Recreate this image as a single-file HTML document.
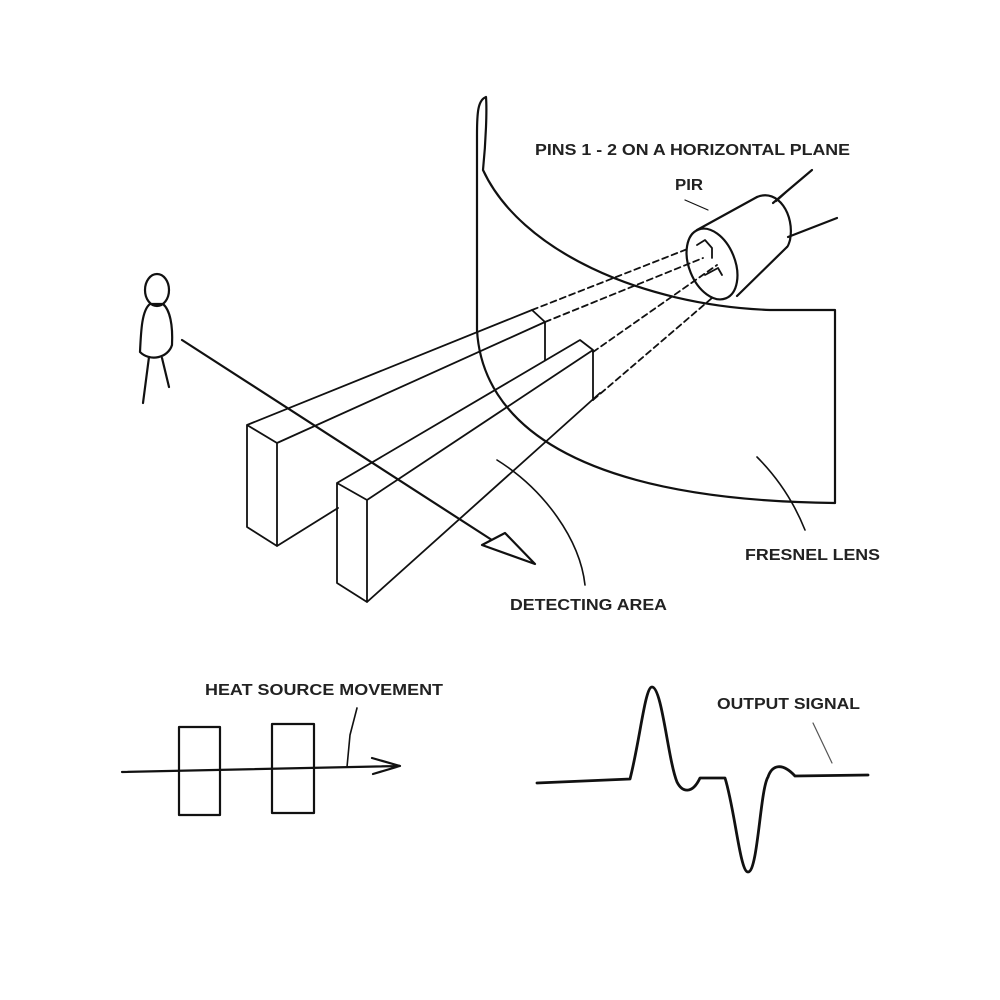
<!DOCTYPE html>
<html><head><meta charset="utf-8"><style>html,body{margin:0;padding:0;background:#fff}svg{display:block}text{font-family:"Liberation Sans",sans-serif;font-weight:bold;fill:#222;font-size:16px}</style></head>
<body>
<svg width="1000" height="1000" viewBox="0 0 1000 1000" xmlns="http://www.w3.org/2000/svg">
<g fill="none" stroke="#111" stroke-width="2.2" stroke-linejoin="round" stroke-linecap="round">
<!-- Fresnel lens -->
<path d="M486,97 C478,100 477,112 477,135 L477,330 C482,420 570,500 835,503 L835,310 L770,310 C640,305 520,250 483,170 C486,140 487,110 486,97"/>
<!-- person -->
<ellipse cx="157" cy="290" rx="12" ry="16"/>
<path d="M150,304 C142,310 141,330 140,352 C150,362 168,358 172,345 C173,325 170,310 163,304 Z"/>
<path d="M149,357 L143,403 M162,358 L169,387"/>
<!-- block 1 -->
<path d="M247,425 L532,310 L545,322 L277,443 Z M247,425 L247,527 L277,546 L277,443 M545,322 L545,360 M277,546 L338,508" stroke-width="1.8"/>
<!-- block 2 -->
<path d="M337,483 L580,340 L593,350 L367,500 Z M337,483 L337,583 L367,602 L367,500 M593,350 L593,400 M367,602 L600,393" stroke-width="1.8"/>
<!-- dashed beams -->
<path d="M532,310 L690,248 M545,322 L703,258 M593,352 L717,265 M593,400 L712,298" stroke-dasharray="6,4" stroke-width="1.8"/>
<!-- PIR cylinder -->
<path d="M697,230 L757,197 M737,296 L787,247"/>
<path d="M757,197 C778,188 795,215 790,240 C788,247 787,247 787,247"/>
<ellipse cx="712" cy="264" rx="23" ry="37" transform="rotate(-22 712 264)"/>
<path d="M697,245 L705,240 L712,248 L712,258 M705,275 L718,268 L722,275" stroke-width="1.8"/>
<path d="M773,203 L812,170 M776,201 L786,192 M788,237 L837,218"/>
<path d="M685,200 L708,210" stroke-width="1.2"/>
<!-- arrow -->
<path d="M182,340 L495,542"/>
<path d="M482,545 L505,533 L535,564 Z" fill="#fff"/>
<!-- leaders -->
<path d="M497,460 C545,490 580,540 585,585" stroke-width="1.6"/>
<path d="M757,457 C780,480 795,505 805,530" stroke-width="1.6"/>
<!-- bottom left -->
<rect x="179" y="727" width="41" height="88"/>
<rect x="272" y="724" width="42" height="89"/>
<path d="M122,772 L400,766 M372,758 L400,766 L373,774"/>
<path d="M357,708 L350,735 L347,767" stroke-width="1.6"/>
<!-- output signal -->
<path d="M537,783 L630,779 C640,740 645,687 652,687 C662,687 668,760 677,782 C682,792 692,795 700,778 L725,778 C735,810 740,872 748,872 C758,872 760,790 768,777 C772,765 782,762 795,776 L868,775" stroke-width="2.8"/>
<path d="M813,723 L832,763" stroke-width="1.2" stroke="#555"/>
</g>
<text x="535" y="155" textLength="315" lengthAdjust="spacingAndGlyphs">PINS 1 - 2 ON A HORIZONTAL PLANE</text>
<text x="675" y="190" textLength="28" lengthAdjust="spacingAndGlyphs">PIR</text>
<text x="745" y="560" textLength="135" lengthAdjust="spacingAndGlyphs">FRESNEL LENS</text>
<text x="510" y="610" textLength="157" lengthAdjust="spacingAndGlyphs">DETECTING AREA</text>
<text x="205" y="695" textLength="238" lengthAdjust="spacingAndGlyphs">HEAT SOURCE MOVEMENT</text>
<text x="717" y="709" textLength="143" lengthAdjust="spacingAndGlyphs">OUTPUT SIGNAL</text>
</svg>
</body></html>
